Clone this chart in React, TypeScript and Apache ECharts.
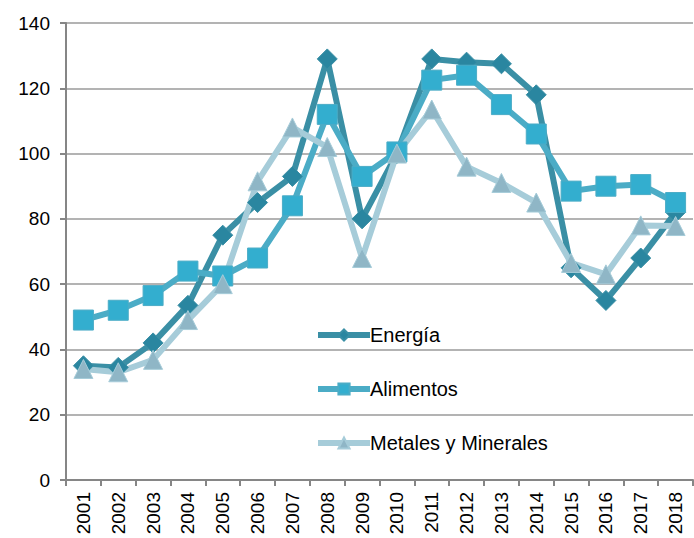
import React, { useEffect, useRef } from "react";
import * as echarts from "echarts";

const years = ["2001","2002","2003","2004","2005","2006","2007","2008","2009","2010","2011","2012","2013","2014","2015","2016","2017","2018"];
const energia = [35, 34.5, 42, 53.5, 75, 85, 93, 129, 80, 100, 129, 128, 127.5, 118, 65, 55, 68, 82];
const alimentos = [49, 52, 56.5, 64, 62.5, 68, 84, 112, 93, 100.5, 122.5, 124, 115, 106, 88.5, 90, 90.5, 85];
const metales = [34, 33, 36.8, 49, 60, 91.5, 108, 102, 68, 100, 113.5, 96, 91, 85, 66.5, 63, 78, 77.8];
const yTicks = { min: 0, max: 140, interval: 20 };

const FONT = "Liberation Sans";

export default function App() {
  const ref = useRef<HTMLDivElement>(null);
  useEffect(() => {
    document.body.style.margin = "0";
    const chart = echarts.init(ref.current!, null, { renderer: "svg" });
    const mk = (name: string, data: number[], line: string, marker: string, symbol: string, size: number) => ({
      name,
      type: "line",
      data,
      symbol,
      symbolSize: size,
      lineStyle: { color: line, width: 6 },
      itemStyle: { color: marker, borderColor: line, borderWidth: 1 },
      emphasis: { disabled: true },
    });
    chart.setOption({
      animation: false,
      grid: { left: 66, right: 1, top: 23, bottom: 58 },
      legend: {
        orient: "vertical",
        left: 310,
        top: 320,
        itemGap: 34,
        itemWidth: 52,
        itemHeight: 14,
        lineStyle: { width: 6 },
        textStyle: { fontFamily: FONT, fontSize: 20, color: "#000", padding: [0, 0, 0, -5] },
        data: ["Energía", "Alimentos", "Metales y Minerales"],
      },
      xAxis: {
        type: "category",
        data: years,
        boundaryGap: true,
        axisLine: { lineStyle: { color: "#868686", width: 2 } },
        axisTick: { show: true, length: 6, inside: false, lineStyle: { color: "#868686", width: 2 } },
        axisLabel: { rotate: 90, margin: 12, fontFamily: FONT, fontSize: 19, color: "#000", interval: 0 },
        splitLine: { show: false },
      },
      yAxis: {
        type: "value",
        min: yTicks.min,
        max: yTicks.max,
        interval: yTicks.interval,
        axisLine: { show: true, lineStyle: { color: "#868686", width: 2 } },
        axisTick: { show: true, length: 6, lineStyle: { color: "#868686", width: 2 } },
        axisLabel: { margin: 16, fontFamily: FONT, fontSize: 19, color: "#000" },
        splitLine: { lineStyle: { color: "#9a9a9a", width: 1.5 } },
      },
      series: [
        mk("Energía", energia, "#3A8FA5", "#2A86A0", "diamond", 20),
        mk("Alimentos", alimentos, "#4BACC6", "#33AECF", "rect", 20),
        mk("Metales y Minerales", metales, "#A6CCD9", "#8FB6C6", "triangle", 19),
      ],
    });
    return () => chart.dispose();
  }, []);
  return <div ref={ref} style={{ width: 694, height: 538 }} />;
}
